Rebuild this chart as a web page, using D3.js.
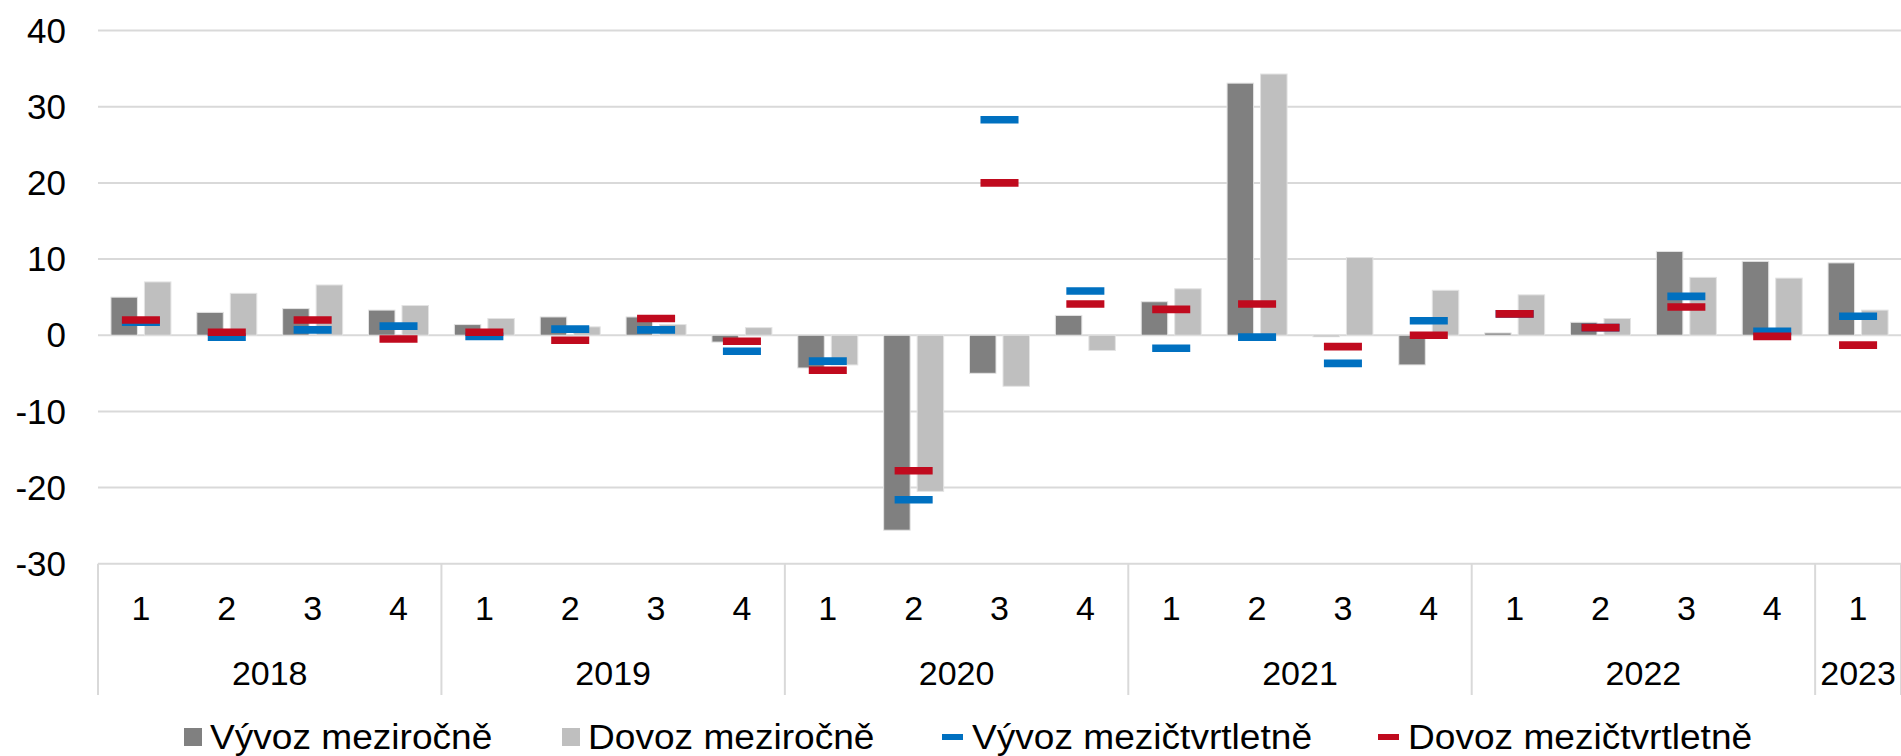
<!DOCTYPE html>
<html>
<head>
<meta charset="utf-8">
<script src="https://cdn.jsdelivr.net/npm/d3@7"></script>
<style>
  body { margin: 0; background: #fff; }
  svg text { font-family: "Liberation Sans", Arial, sans-serif; fill: #000; }
</style>
</head>
<body>
<div id="chart"></div>
<script>
// quarters and years (2018 Q1 .. 2023 Q1)
var quarters = ["1","2","3","4","1","2","3","4","1","2","3","4","1","2","3","4","1","2","3","4","1"];
var years = ["2018","2019","2020","2021","2022","2023"];
var yearQuarters = [4, 4, 4, 4, 4, 1];

// year-on-year (bars) and quarter-on-quarter (markers), %
var vyvozYoY = [5.0, 3.0, 3.5, 3.3, 1.4, 2.4, 2.4, -0.9, -4.3, -25.6, -5.0, 2.6, 4.4, 33.1, -0.2, -3.9, 0.3, 1.7, 11.0, 9.7, 9.5];
var dovozYoY = [7.0, 5.5, 6.6, 3.9, 2.2, 1.1, 1.4, 1.0, -3.9, -20.5, -6.7, -2.0, 6.1, 34.3, 10.2, 5.9, 5.3, 2.2, 7.6, 7.5, 3.3];
var vyvozQoQ = [1.7, -0.25, 0.7, 1.2, -0.15, 0.8, 0.7, -2.1, -3.4, -21.6, 28.3, 5.8, -1.7, -0.25, -3.7, 1.9, 2.8, 1.0, 5.1, 0.5, 2.5];
var dovozQoQ = [2.0, 0.4, 2.0, -0.5, 0.4, -0.65, 2.2, -0.8, -4.6, -17.8, 20.0, 4.1, 3.4, 4.1, -1.5, 0.0, 2.8, 1.0, 3.7, -0.15, -1.3];

var yTicks = [-30, -20, -10, 0, 10, 20, 30, 40];

var legendItems = [
  { label: "Vývoz meziročně", type: "box", color: "#808080" },
  { label: "Dovoz meziročně", type: "box", color: "#bfbfbf" },
  { label: "Vývoz mezičtvrtletně", type: "line", color: "#0070c0" },
  { label: "Dovoz mezičtvrtletně", type: "line", color: "#c00a1e" }
];

var chartW = 1901, chartH = 756;
var plotL = 98, plotR = 1901, plotT = 30.6, plotB = 563.7;

var svg = d3.select("#chart").append("svg")
  .attr("width", chartW)
  .attr("height", chartH);

var idx = d3.range(quarters.length);

var x = d3.scaleBand()
  .domain(idx)
  .range([plotL, plotR])
  .padding(0);

var xSub = d3.scaleBand()
  .domain(["v", "d"])
  .range([0, x.bandwidth()])
  .paddingInner(0.209)
  .paddingOuter(0.386);

var y = d3.scaleLinear()
  .domain([-30, 40])
  .range([plotB, plotT]);

// gridlines
svg.append("g").selectAll("line")
  .data(yTicks)
  .enter().append("line")
  .attr("x1", plotL)
  .attr("x2", plotR)
  .attr("y1", function(d) { return y(d); })
  .attr("y2", function(d) { return y(d); })
  .attr("stroke", "#d9d9d9")
  .attr("stroke-width", 2);

// y tick labels
svg.append("g").selectAll("text")
  .data(yTicks)
  .enter().append("text")
  .attr("x", 66)
  .attr("y", function(d) { return y(d); })
  .attr("dy", "0.35em")
  .attr("text-anchor", "end")
  .style("font-size", "35px")
  .text(function(d) { return d; });

// bars
function drawBars(values, key, color) {
  svg.append("g").selectAll("rect")
    .data(values)
    .enter().append("rect")
    .attr("x", function(d, i) { return x(i) + xSub(key); })
    .attr("width", xSub.bandwidth())
    .attr("y", function(d) { return y(Math.max(0, d)); })
    .attr("height", function(d) { return Math.abs(y(d) - y(0)); })
    .attr("fill", color)
    .attr("stroke", "#e3e3e3")
    .attr("stroke-width", 1);
}
drawBars(vyvozYoY, "v", "#808080");
drawBars(dovozYoY, "d", "#bfbfbf");

// quarter-on-quarter dash markers
var markW = x.bandwidth() * 0.443;
function drawMarks(values, color) {
  svg.append("g").selectAll("line")
    .data(values)
    .enter().append("line")
    .attr("x1", function(d, i) { return x(i) + x.bandwidth() / 2 - markW / 2; })
    .attr("x2", function(d, i) { return x(i) + x.bandwidth() / 2 + markW / 2; })
    .attr("y1", function(d) { return y(d); })
    .attr("y2", function(d) { return y(d); })
    .attr("stroke", color)
    .attr("stroke-width", 7.6);
}
drawMarks(vyvozQoQ, "#0070c0");
drawMarks(dovozQoQ, "#c00a1e");

// category axis: quarter labels
svg.append("g").selectAll("text")
  .data(quarters)
  .enter().append("text")
  .attr("x", function(d, i) { return x(i) + x.bandwidth() / 2; })
  .attr("y", 608)
  .attr("dy", "0.35em")
  .attr("text-anchor", "middle")
  .style("font-size", "34px")
  .text(function(d) { return d; });

// year groups
var starts = [];
var acc = 0;
yearQuarters.forEach(function(n) { starts.push(acc); acc += n; });

var sep = [plotL];
starts.forEach(function(s, k) { sep.push(x(s) + x.bandwidth() * yearQuarters[k]); });

svg.append("g").selectAll("line")
  .data(sep)
  .enter().append("line")
  .attr("x1", function(d) { return d; })
  .attr("x2", function(d) { return d; })
  .attr("y1", plotB)
  .attr("y2", 695)
  .attr("stroke", "#d9d9d9")
  .attr("stroke-width", 2);

svg.append("g").selectAll("text")
  .data(years)
  .enter().append("text")
  .attr("x", function(d, k) { return x(starts[k]) + x.bandwidth() * yearQuarters[k] / 2; })
  .attr("y", 673)
  .attr("dy", "0.35em")
  .attr("text-anchor", "middle")
  .style("font-size", "34px")
  .text(function(d) { return d; });

// legend
var legendX = [184, 562, 942, 1378];
var lg = svg.append("g").selectAll("g")
  .data(legendItems)
  .enter().append("g")
  .attr("transform", function(d, i) { return "translate(" + legendX[i] + ",737)"; });

lg.filter(function(d) { return d.type === "box"; })
  .append("rect")
  .attr("x", 0).attr("y", -9)
  .attr("width", 18).attr("height", 18)
  .attr("fill", function(d) { return d.color; });

lg.filter(function(d) { return d.type === "line"; })
  .append("line")
  .attr("x1", 0).attr("x2", 21)
  .attr("y1", 0).attr("y2", 0)
  .attr("stroke", function(d) { return d.color; })
  .attr("stroke-width", 6);

lg.append("text")
  .attr("transform", function(d) { return "translate(" + (d.type === "box" ? 26 : 30) + ",0) scale(1.06,1)"; })
  .attr("dy", "0.35em")
  .style("font-size", "35px")
  .text(function(d) { return d.label; });
</script>
</body>
</html>
